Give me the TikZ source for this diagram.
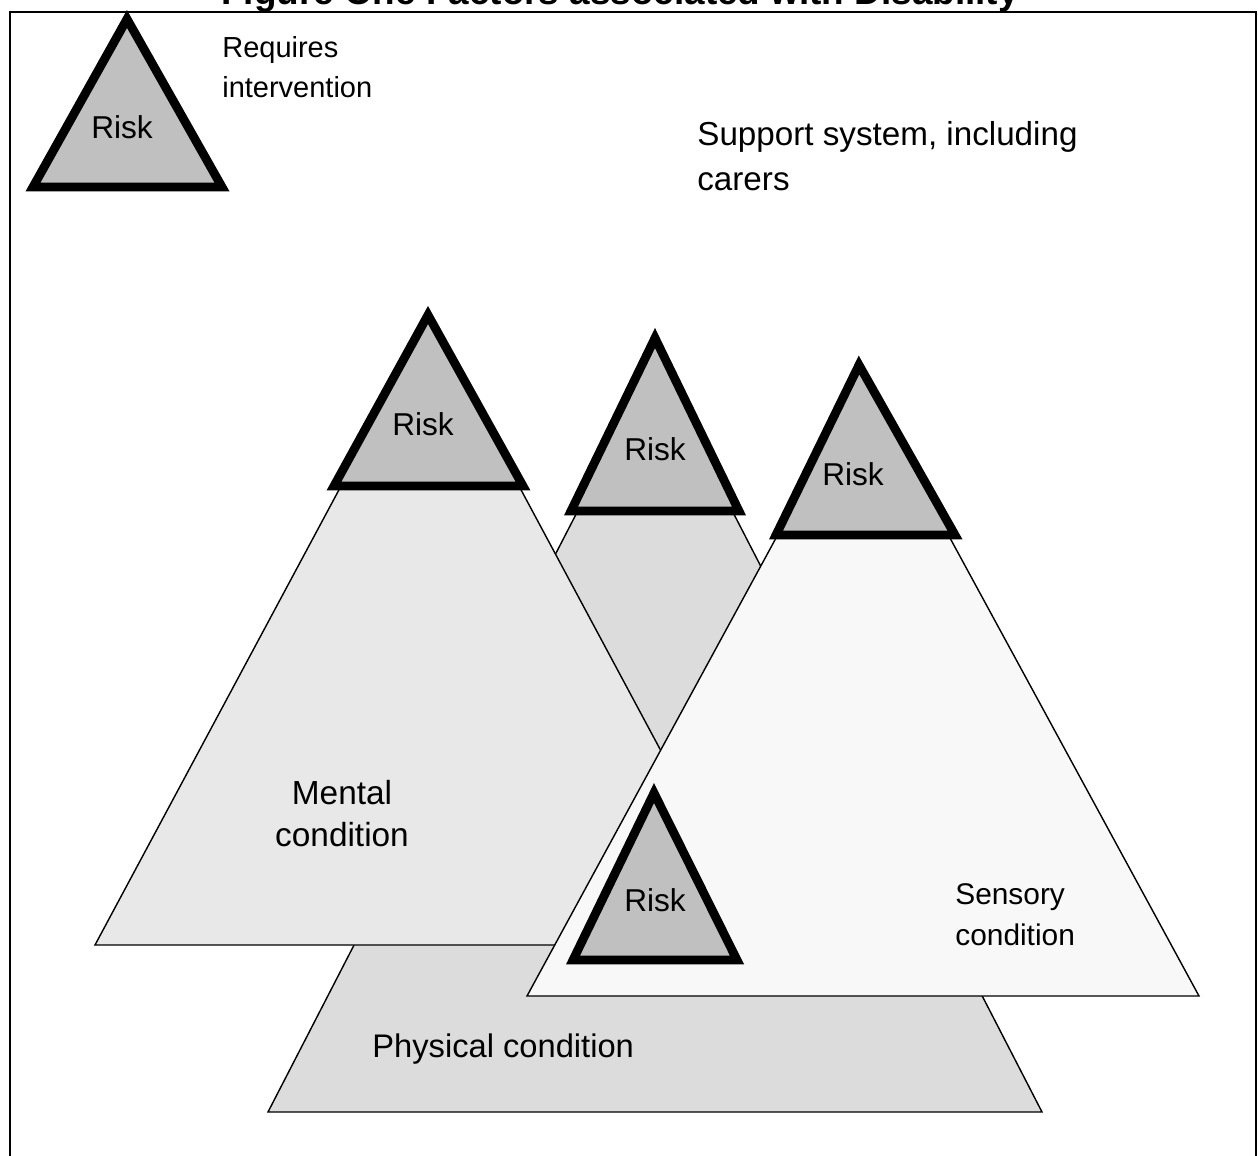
\documentclass[tikz,border=0pt]{standalone}
\usepackage{fontspec}
\setmainfont{Liberation Sans}
\definecolor{riskgray}{HTML}{C0C0C0}
\definecolor{mentalgray}{HTML}{E8E8E8}
\definecolor{physgray}{HTML}{DCDCDC}
\definecolor{sensgray}{HTML}{F8F8F8}
\tikzset{
  risk/.style={draw, fill=riskgray, line width=5pt, line join=miter},
  cond/.style={draw, line width=0.8pt, line join=miter},
  risktext/.style={font=\fontsize{18}{22}\selectfont},
  smalltext/.style={font=\fontsize{16.5}{20}\selectfont, anchor=base west, inner sep=0pt},
  bigtext/.style={font=\fontsize{19}{23}\selectfont, anchor=base west, inner sep=0pt}
}
\begin{document}
\begin{tikzpicture}[x=0.02cm, y=-0.02cm]
\useasboundingbox (0,0) rectangle (1258,1156);
\node[font=\bfseries\fontsize{21}{25}\selectfont, anchor=base] (title) at (620,5) {Figure One Factors associated with Disability};
\draw[line width=1.1pt] (10,1200)--(10,12)--(1256,12)--(1256,1200);

% legend
\draw[risk] (127,19)--(222,187)--(33,187)--cycle;
\node[risktext] (legrisk) at (122,127) {Risk};
\node[smalltext] (req1) at (222,57) {Requires};
\node[smalltext] (req2) at (222,97) {intervention};
\node[bigtext, font=\fontsize{18.9}{23}\selectfont] (sup1) at (697,145) {Support system, including};
\node[bigtext, font=\fontsize{18.9}{23}\selectfont] (sup2) at (697,190) {carers};

% physical condition
\draw[cond, fill=physgray] (655,361)--(1042,1112)--(268,1112)--cycle;
\draw[risk] (655,338)--(739,511)--(571,511)--cycle;
\node[risktext] (physrisk) at (655,449) {Risk};
\node[bigtext, font=\fontsize{18.6}{23}\selectfont] (phys) at (372,1057) {Physical condition};

% mental condition
\draw[cond, fill=mentalgray] (430,320)--(765,945)--(95,945)--cycle;
\draw[risk] (428,315)--(523,486)--(334,486)--cycle;
\node[risktext] (mentrisk) at (423,424) {Risk};
\node[bigtext, anchor=base] (ment1) at (342,804) {Mental};
\node[bigtext, anchor=base] (ment2) at (342,846) {condition};

% sensory condition
\draw[cond, fill=sensgray] (863,378)--(1199,996)--(527,996)--cycle;
\draw[risk] (859,365)--(955,535)--(776,535)--cycle;
\node[risktext] (sensrisk) at (853,474) {Risk};
\draw[risk] (654,793)--(737,960)--(573,960)--cycle;
\node[risktext] (lowrisk) at (655,900) {Risk};
\node[smalltext, font=\fontsize{17}{21}\selectfont] (sens1) at (955,904) {Sensory};
\node[smalltext, font=\fontsize{17}{21}\selectfont] (sens2) at (955,945) {condition};
\end{tikzpicture}
\end{document}
